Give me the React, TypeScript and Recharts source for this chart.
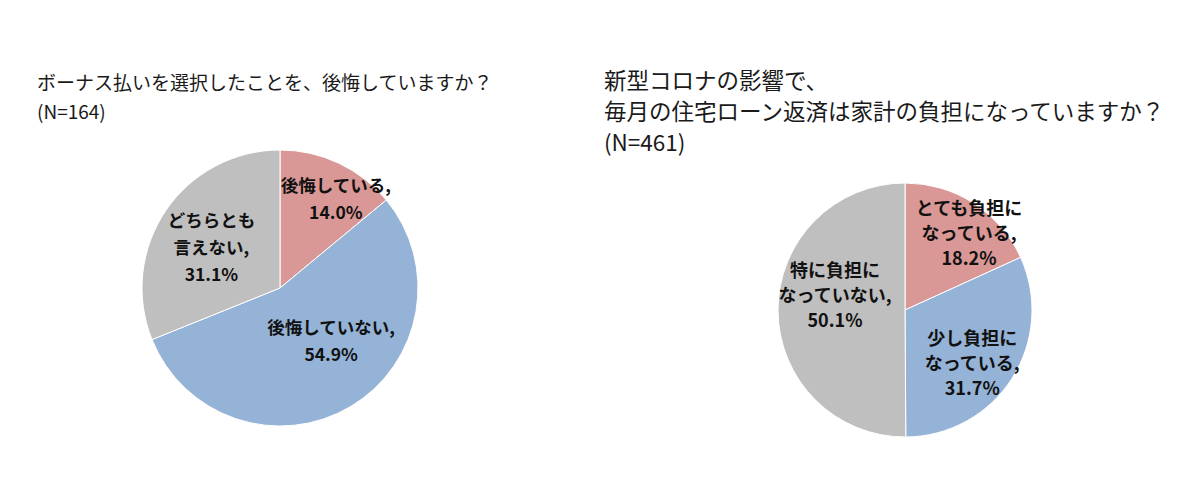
import React from "react";
import { PieChart, Pie, Cell } from "recharts";

// --- データ ---
const LEFT_CATEGORIES = ["後悔している", "後悔していない", "どちらとも言えない"];
const LEFT_VALUES = [14.0, 54.9, 31.1];
const LEFT_LABEL_LINES = [["後悔している,"], ["後悔していない,"], ["どちらとも", "言えない,"]];

const RIGHT_CATEGORIES = ["とても負担になっている", "少し負担になっている", "特に負担になっていない"];
const RIGHT_VALUES = [18.2, 31.7, 50.1];
const RIGHT_LABEL_LINES = [["とても負担に", "なっている,"], ["少し負担に", "なっている,"], ["特に負担に", "なっていない,"]];

const SLICE_COLORS = ["#D99795", "#95B3D7", "#BFBFBF"];

// ラベル位置（半径比・角度補正）
const LEFT_LABEL_PLACE = [
    { f: 0.77, da: -6.5 },
    { f: 0.53, da: 13.6 },
    { f: 0.58, da: 3 },
];
const RIGHT_LABEL_PLACE = [
    { f: 0.795, da: -6.6 },
    { f: 0.67, da: -5.2 },
    { f: 0.565, da: -13 },
];

const FONT = '"Noto Sans CJK JP", "Noto Sans", sans-serif';
const RAD = Math.PI / 180;

const leftData = LEFT_CATEGORIES.map((name, i) => ({ name, value: LEFT_VALUES[i], lines: LEFT_LABEL_LINES[i] }));
const rightData = RIGHT_CATEGORIES.map((name, i) => ({ name, value: RIGHT_VALUES[i], lines: RIGHT_LABEL_LINES[i] }));

function makeLabel(place: { f: number; da: number }[], fontSize: number, lineHeight: number) {
    return (props: any) => {
        const { cx, cy, midAngle, outerRadius, index, payload, value } = props;
        const p = place[index];
        const a = (midAngle + p.da) * RAD;
        const x = cx + outerRadius * p.f * Math.cos(a);
        const y = cy - outerRadius * p.f * Math.sin(a);
        const lines = [...(payload?.lines ?? []), `${Number(value).toFixed(1)}%`];
        const top = y - ((lines.length - 1) * lineHeight) / 2;
        return (
            <text
                x={x}
                y={top}
                textAnchor="middle"
                fill="#111"
                fontFamily={FONT}
                fontWeight="bold"
                fontSize={fontSize}
            >
                {lines.map((t, i) => (
                    <tspan key={i} x={x} y={top + i * lineHeight} dominantBaseline="central">
                        {t}
                    </tspan>
                ))}
            </text>
        );
    };
}

export default function App() {
    return (
        <div
            style={{
                position: "absolute",
                left: 0,
                top: 0,
                width: 1200,
                height: 498,
                background: "#fff",
                fontFamily: FONT,
                color: "#1a1a1a",
            }}
        >
            {/* 左のタイトル */}
            <div style={{ position: "absolute", left: 37, top: 67, fontSize: 19, lineHeight: "29px", whiteSpace: "nowrap" }}>
                <div>ボーナス払いを選択したことを、後悔していますか？</div>
                <div>(N=164)</div>
            </div>

            {/* 右のタイトル */}
            <div style={{ position: "absolute", left: 604, top: 64, fontSize: 22.5, lineHeight: "31px", whiteSpace: "nowrap" }}>
                <div>新型コロナの影響で、</div>
                <div>毎月の住宅ローン返済は家計の負担になっていますか？</div>
                <div>(N=461)</div>
            </div>

            <div style={{ position: "absolute", left: 0, top: 0 }}>
                <PieChart width={1200} height={498} margin={{ top: 0, right: 0, bottom: 0, left: 0 }}>
                    <Pie
                        data={leftData}
                        dataKey="value"
                        nameKey="name"
                        cx={280}
                        cy={288}
                        outerRadius={138}
                        startAngle={90}
                        endAngle={-270}
                        stroke="#fff"
                        strokeWidth={1}
                        labelLine={false}
                        label={makeLabel(LEFT_LABEL_PLACE, 17.5, 27)}
                        isAnimationActive={false}
                    >
                        {leftData.map((_, i) => (
                            <Cell key={`l-${i}`} fill={SLICE_COLORS[i]} />
                        ))}
                    </Pie>
                    <Pie
                        data={rightData}
                        dataKey="value"
                        nameKey="name"
                        cx={905}
                        cy={310}
                        outerRadius={127}
                        startAngle={90}
                        endAngle={-270}
                        stroke="#fff"
                        strokeWidth={1}
                        labelLine={false}
                        label={makeLabel(RIGHT_LABEL_PLACE, 18, 25)}
                        isAnimationActive={false}
                    >
                        {rightData.map((_, i) => (
                            <Cell key={`r-${i}`} fill={SLICE_COLORS[i]} />
                        ))}
                    </Pie>
                </PieChart>
            </div>
        </div>
    );
}
